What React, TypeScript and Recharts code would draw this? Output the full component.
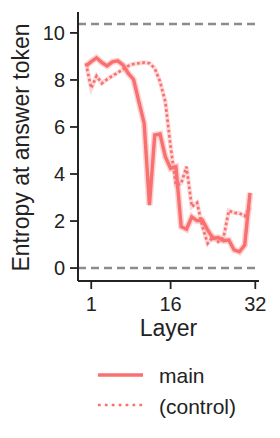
import { LineChart, Line, XAxis, YAxis, ReferenceLine } from 'recharts';

const layers = [0, 1, 2, 3, 4, 5, 6, 7, 8, 9, 10, 11, 12, 13, 14, 15, 16, 17, 18, 19, 20, 21, 22, 23, 24, 25, 26, 27, 28, 29, 30, 31];
const mainValues = [8.6, 8.78, 8.94, 8.74, 8.6, 8.77, 8.81, 8.64, 8.28, 8.02, 7.08, 6.16, 2.68, 5.66, 5.7, 4.74, 4.24, 4.31, 1.76, 1.65, 2.18, 2.01, 2.04, 1.62, 1.26, 1.3, 1.16, 1.19, 0.77, 0.69, 0.98, 3.2];
const controlValues = [8.7, 7.65, 8.17, 7.86, 8.03, 8.17, 8.31, 8.45, 8.6, 8.68, 8.71, 8.74, 8.71, 8.5, 7.93, 7.08, 5.16, 3.53, 3.6, 4.31, 2.61, 2.78, 1.76, 1.05, 1.33, 1.12, 1.3, 2.44, 2.35, 2.33, 2.21, 2.58];
const xTicks = [1, 16, 32];
const yTicks = [0, 2, 4, 6, 8, 10];
const refLevels = [0, 10.38];

const data = layers.map((layer, i) => ({
  layer,
  main: mainValues[i],
  control: controlValues[i],
}));

const RED = '#f87070';
const INK = '#222';
const FONT = '"Liberation Sans", Arial, sans-serif';

export default function App() {
  return (
    <div style={{ position: 'absolute', left: 0, top: 0, width: 280, height: 438, background: '#fff', fontFamily: FONT }}>
      <LineChart
        width={280}
        height={438}
        data={data}
        margin={{ top: 12, right: 21, left: 18, bottom: 127 }}
      >
        {refLevels.map(v => (
          <ReferenceLine key={v} y={v} stroke="#8c8c8c" strokeWidth={2.5} strokeDasharray="8 5" />
        ))}
        <XAxis
          dataKey="layer"
          type="number"
          domain={[-1.5, 32.7]}
          allowDataOverflow
          ticks={xTicks}
          height={30}
          tickSize={8}
          tickMargin={8}
          axisLine={{ stroke: INK, strokeWidth: 2 }}
          tickLine={{ stroke: INK, strokeWidth: 1.8 }}
          tick={{ fill: INK, fontSize: 20, fontFamily: FONT }}
          label={{ value: 'Layer', position: 'bottom', offset: 9, fill: INK, fontSize: 23, fontFamily: FONT }}
        />
        <YAxis
          type="number"
          domain={[-0.55, 10.89]}
          allowDataOverflow
          ticks={yTicks}
          width={60}
          tickSize={8}
          tickMargin={5}
          axisLine={{ stroke: INK, strokeWidth: 2 }}
          tickLine={{ stroke: INK, strokeWidth: 1.8 }}
          tick={{ fill: INK, fontSize: 20, fontFamily: FONT }}
          label={{ value: 'Entropy at answer token', angle: -90, position: 'center', dx: -27, dy: 1, fill: INK, fontSize: 23, fontFamily: FONT }}
        />
        {/* faint halo standing in for the confidence band */}
        <Line dataKey="control" stroke={RED} strokeOpacity={0.25} strokeWidth={4.5} dot={false} isAnimationActive={false} />
        <Line dataKey="main" stroke={RED} strokeOpacity={0.3} strokeWidth={6.5} dot={false} isAnimationActive={false} />
        <Line dataKey="control" stroke={RED} strokeWidth={2.7} strokeDasharray="2.7 2.5" dot={false} isAnimationActive={false} />
        <Line dataKey="main" stroke={RED} strokeWidth={3.4} dot={false} isAnimationActive={false} />
      </LineChart>
      <svg width={280} height={438} style={{ position: 'absolute', left: 0, top: 0, pointerEvents: 'none' }}>
        <line x1={98} x2={143} y1={375} y2={375} stroke={RED} strokeWidth={3.4} />
        <text x={159} y={383} fontSize={21} fill={INK} fontFamily={FONT}>main</text>
        <line x1={98} x2={143} y1={405} y2={405} stroke={RED} strokeWidth={2.7} strokeDasharray="2.7 4.2" />
        <text x={159} y={414} fontSize={21} fill={INK} fontFamily={FONT}>(control)</text>
      </svg>
    </div>
  );
}
